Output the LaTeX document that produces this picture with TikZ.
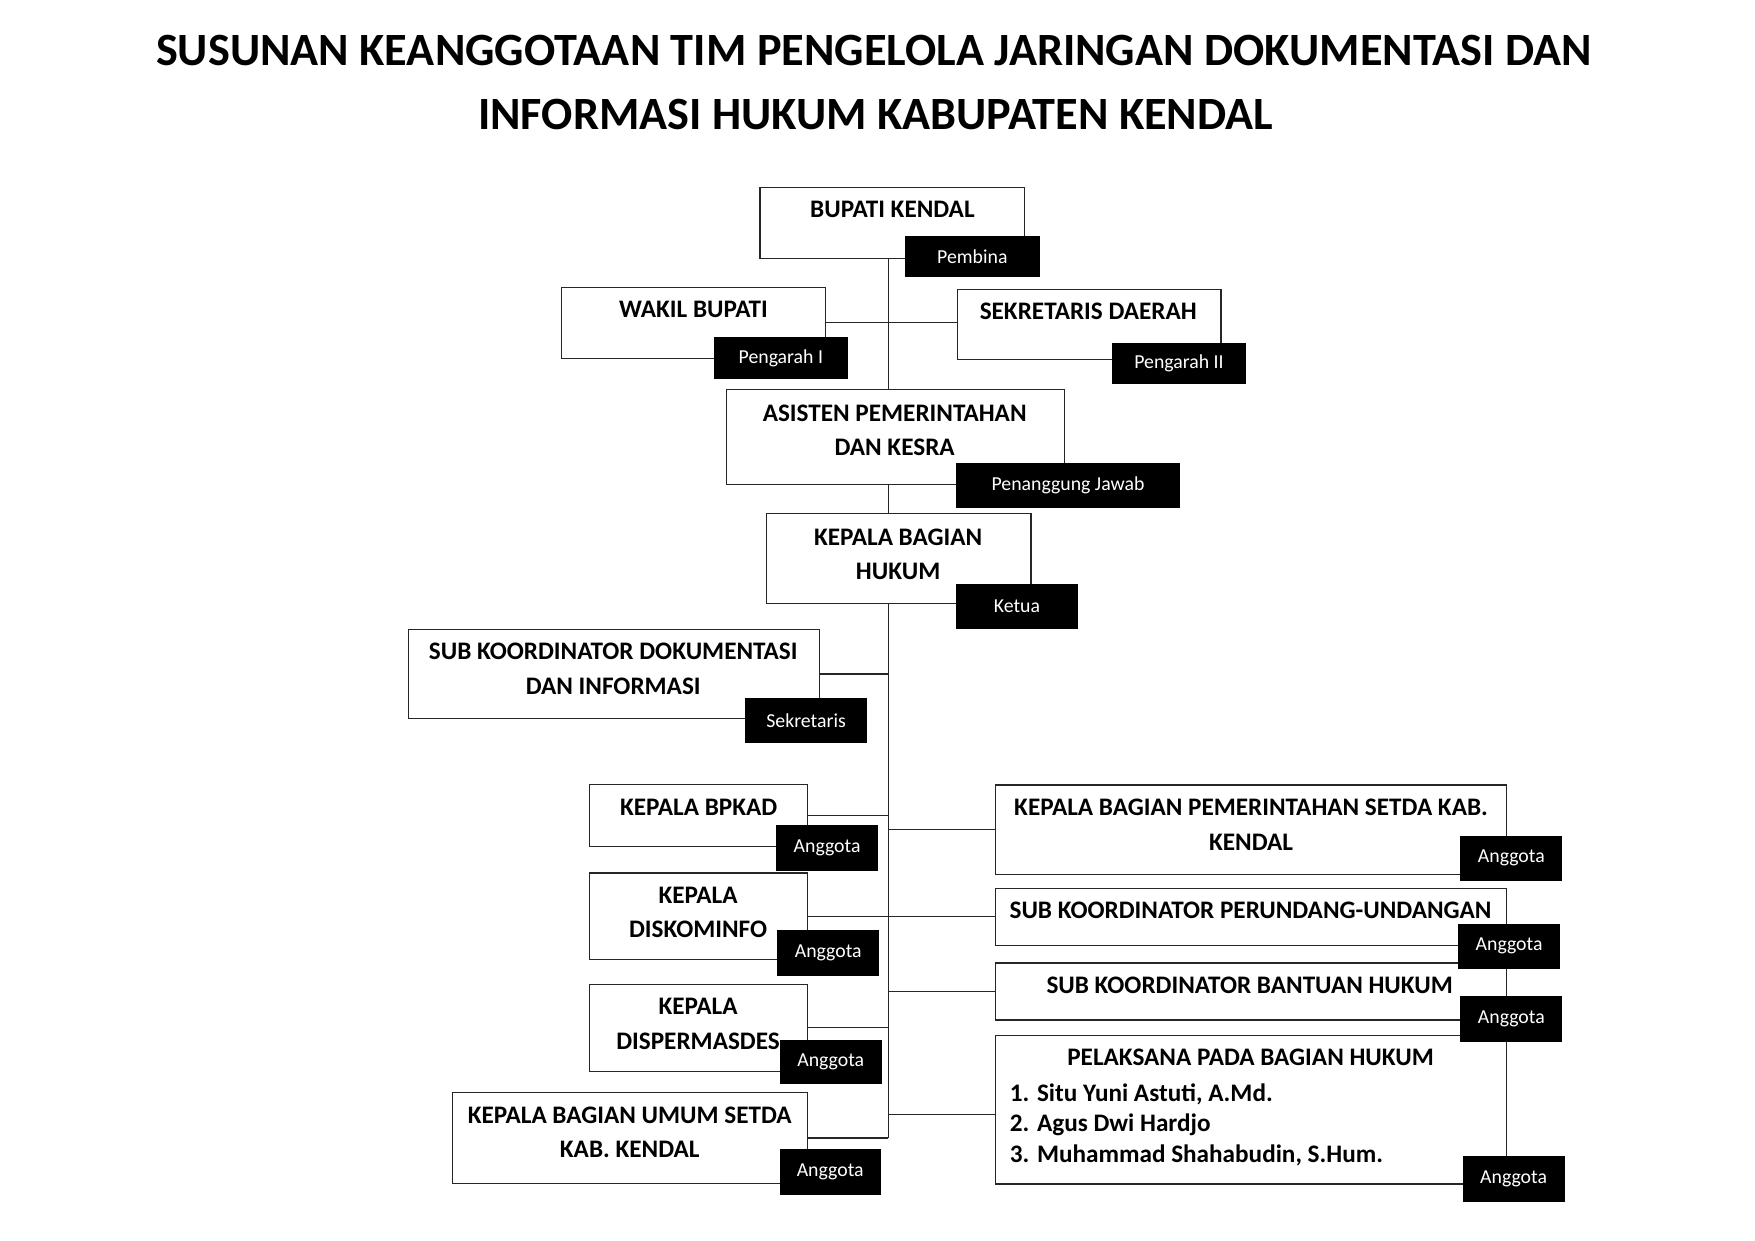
\documentclass[tikz,border=0pt]{standalone}
\usepackage{fontspec}
\setmainfont{Carlito}
\newlength\un
\setlength\un{0.5384pt}
\newlength\unv
\setlength\unv{0.5389pt}
\tikzset{
  wbox/.style={draw=black!85, line width=0.65pt, fill=white, anchor=north west, inner sep=0pt},
  lbox/.style={draw=black, fill=black, text=white, anchor=north west, inner sep=0pt,
    font=\fontsize{9.5}{11}\selectfont},
  btext/.style={anchor=base, inner sep=0pt, font=\fontsize{12.1}{14}\selectfont\bfseries},
  ltext/.style={anchor=base west, inner sep=0pt, font=\fontsize{12.1}{14}\selectfont\bfseries},
  ttext/.style={anchor=base, inner sep=0pt, font=\fontsize{22.2}{26}\selectfont\bfseries},
  conn/.style={draw=black!85, line width=0.55pt},
}
\newcommand\WB[5]{\node[wbox, minimum width={(#4-#2)*\un}, minimum height={(#5-#3)*\unv}] (#1) at (#2,#3) {};}
\newcommand\LB[6]{\node[lbox, minimum width={(#4-#2)*\un}, minimum height={(#5-#3)*\unv}] (#1) at (#2,#3) {#6};}
\begin{document}
\begin{tikzpicture}[x=0.5384pt, y=-0.5389pt]
\useasboundingbox[fill=white] (0pt,0pt) rectangle (842.4pt,-595.2pt);
% title
\node[ttext] (title1) at (779,58) {SUSUNAN KEANGGOTAAN TIM PENGELOLA JARINGAN DOKUMENTASI DAN};
\node[ttext] (title2) at (780.5,115) {INFORMASI HUKUM KABUPATEN KENDAL};
% white boxes
\WB{bupati}{677}{166.5}{913}{229.5}
\WB{wakil}{500}{255.5}{735.5}{318.5}
\WB{sekda}{853}{257}{1088}{319.5}
\WB{asisten}{647}{346.5}{948.5}{431}
\WB{kepala}{683}{457}{918.5}{537}
\WB{subdok}{363.5}{560}{730}{639.5}
\WB{bpkad}{525}{698}{719.5}{753.5}
\WB{diskom}{525}{777}{719.5}{854}
\WB{disper}{525}{876}{719.5}{953.5}
\WB{umum}{403}{972.5}{719.5}{1053.5}
\WB{pemer}{887}{698.5}{1342.5}{778.5}
\WB{perund}{887}{790.5}{1342.5}{841.5}
\WB{bantuan}{887}{857}{1342.5}{908}
\WB{pelak}{887}{921.5}{1342.5}{1054}
% connectors
\coordinate (tx) at (792,0);
\coordinate (tend) at (umum.east -| tx);
\draw[conn] (bupati.south -| tx) -- (asisten.north -| tx);
\draw[conn] (asisten.south -| tx) -- (kepala.north -| tx);
\draw[conn] (kepala.south -| tx) -- (tend);
\draw[conn] (wakil.east) -- (wakil.east -| sekda.west);
\draw[conn] (subdok.east) -- (subdok.east -| tx);
\draw[conn] (bpkad.east) -- (bpkad.east -| tx);
\draw[conn] (diskom.east) -- (diskom.east -| perund.west);
\draw[conn] (disper.east) -- (disper.east -| tx);
\draw[conn] (umum.east) -- (tend);
\draw[conn] (pemer.west -| tx) -- (pemer.west);
\draw[conn] (bantuan.west -| tx) -- (bantuan.west);
\coordinate (pelc) at ([yshift=-2.43pt]pelak.west);
\draw[conn] (pelc -| tx) -- (pelc);
% black labels
\LB{pembina}{806.5}{210.5}{926.5}{245.5}{Pembina}
\LB{peng1}{636.5}{300.5}{755}{337}{Pengarah I}
\LB{peng2}{991.5}{305.5}{1110}{341.5}{Pengarah II}
\LB{pj}{852.5}{412.5}{1051}{452}{Penanggung Jawab}
\LB{ketua}{852.5}{520.5}{960}{559.5}{Ketua}
\LB{sekr}{664.5}{622}{772}{661}{Sekretaris}
\LB{a1}{692}{734.5}{782}{775}{Anggota}
\LB{a2}{693}{828.5}{783}{868.5}{Anggota}
\LB{a3}{695.5}{926}{785}{965}{Anggota}
\LB{a4}{695}{1023.5}{784.5}{1063.5}{Anggota}
\LB{a5}{1302}{744.5}{1392}{783.5}{Anggota}
\LB{a6}{1300}{823}{1390}{862}{Anggota}
\LB{a7}{1302}{887.5}{1392}{927.5}{Anggota}
\LB{a8}{1304}{1029.5}{1394}{1069.5}{Anggota}
% texts
\node[btext] (t1) at (795.6,194) {BUPATI KENDAL};
\node[btext] (t2) at (618.3,283) {WAKIL BUPATI};
\node[btext] (t3) at (970.2,285) {SEKRETARIS DAERAH};
\node[btext] (t4a) at (797.6,375) {ASISTEN PEMERINTAHAN};
\node[btext] (t4b) at (797.6,406) {DAN KESRA};
\node[btext] (t5a) at (800.7,485.5) {KEPALA BAGIAN};
\node[btext] (t5b) at (800.7,516.5) {HUKUM};
\node[btext] (t6a) at (546.7,587) {SUB KOORDINATOR DOKUMENTASI};
\node[btext] (t6b) at (546.7,618.5) {DAN INFORMASI};
\node[btext] (t7) at (622.9,726) {KEPALA BPKAD};
\node[btext] (t8a) at (622.3,804.3) {KEPALA};
\node[btext] (t8b) at (622.3,835) {DISKOMINFO};
\node[btext] (t9a) at (622.3,903.4) {KEPALA};
\node[btext] (t9b) at (622.3,934.8) {DISPERMASDES};
\node[btext] (t10a) at (561.4,1000.3) {KEPALA BAGIAN UMUM SETDA};
\node[btext] (t10b) at (561.4,1031.3) {KAB. KENDAL};
\node[btext] (t11a) at (1115.3,726.3) {KEPALA BAGIAN PEMERINTAHAN SETDA KAB.};
\node[btext] (t11b) at (1115.3,757.6) {KENDAL};
\node[btext] (t12) at (1114.9,817.7) {SUB KOORDINATOR PERUNDANG-UNDANGAN};
\node[btext] (t13) at (1114.1,884.7) {SUB KOORDINATOR BANTUAN HUKUM};
\node[btext] (t14) at (1114.9,949.2) {PELAKSANA PADA BAGIAN HUKUM};
\node[ltext] (l1) at (900,980.8) {1. Situ Yuni Astuti, A.Md.};
\node[ltext] (l2) at (900,1007.6) {2. Agus Dwi Hardjo};
\node[ltext] (l3) at (900,1035) {3. Muhammad Shahabudin, S.Hum.};
\end{tikzpicture}
\end{document}
